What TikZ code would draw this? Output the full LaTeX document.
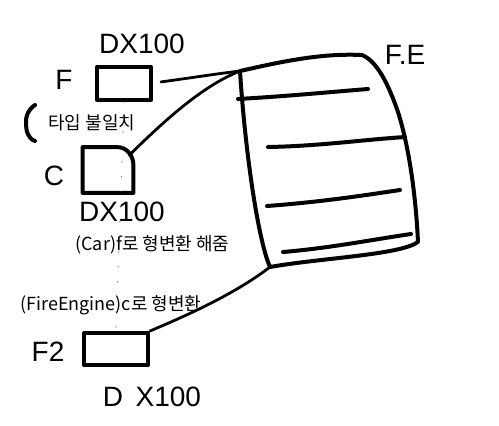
\documentclass[tikz,border=0pt]{standalone}
\usepackage{fontspec}
\setmainfont{Liberation Sans}
\newfontfamily\krfont{Noto Sans CJK KR}
\usetikzlibrary{positioning,calc}

\begin{document}
\begin{tikzpicture}[x=0.5pt,y=-0.5pt,
    pen/.style={line width=2pt, line cap=round, line join=round},
    thinpen/.style={line width=1.4pt, line cap=round, line join=round},
    hand/.style={font=\fontsize{14}{14}\selectfont, inner sep=0pt},
    note/.style={font=\krfont\fontsize{9}{10}\selectfont, inner sep=0pt, anchor=west},
    membox/.style={minimum width=27pt, minimum height=16.5pt, inner sep=0pt}
  ]
    \useasboundingbox (0,0) rectangle (499,425);
    % variables
    \node[membox, draw, pen] (fbox) at (124,83) {};
    \node[membox, minimum width=25pt, minimum height=22.5pt] (cbox) at (108,170) {};
    \draw[pen] (cbox.north west) -- ([xshift=-8pt]cbox.north east)
      to[out=0,in=90] ([yshift=-9pt]cbox.north east) -- (cbox.south east) -- (cbox.south west) -- cycle;
    \node[membox, minimum width=32pt, minimum height=16pt, draw, pen] (ftwobox) at (116,349) {};
    % labels
    \node[hand] (fdx) at (142,44) {DX100};
    \node[hand] (flab) at (64,80) {F};
    \node[hand] (clab) at (54,176) {C};
    \node[hand] (cdx) at (122,212) {DX100};
    \node[hand] (ftwolab) at (48,352) {F2};
    \node[hand] (ftwodx) at (152,397) {D\, X100};
    \node[hand] (felab) at (405,55) {F.E};
    \node[note] (mismatch) at (48,123) {타입 불일치};
    \node[note] (castf) at (75,245) {(Car)f로 형변환 해줌};
    \node[note] (castc) at (20,305) {(FireEngine)c로 형변환};
    \draw[pen] (35,105) to[out=215,in=90] (26,122) to[out=270,in=160] (35,141);
    % heap object
    \coordinate (fetl) at (240,71);
    \coordinate (fetr) at (362,55);
    \coordinate (febr) at (418,242);
    \coordinate (febl) at (270,267);
    \draw[pen] (fetl) .. controls (280,62) and (320,53) .. (fetr)
      .. controls (380,62) and (392,95) .. (398,112)
      .. controls (410,150) and (416,200) .. (febr)
      .. controls (400,255) and (320,258) .. (febl)
      .. controls (258,240) and (245,150) .. (fetl);
    \draw[pen] (238,99) .. controls (290,96) and (330,92) .. (368,89);
    \draw[pen] (268,147) .. controls (320,146) and (360,140) .. (405,137);
    \draw[pen] (267,206) .. controls (320,202) and (360,196) .. (400,190);
    \draw[pen] (283,252) .. controls (330,248) and (370,240) .. (411,234);
    % references
    \draw[thinpen, shorten <=4pt] (fbox.east) .. controls (190,78) and (215,74) .. (fetl);
    \draw[thinpen] ([xshift=-2pt,yshift=-4pt]cbox.north east) .. controls (170,115) and (205,85) .. (fetl);
    \draw[thinpen] (ftwobox.north east) .. controls (200,310) and (240,290) .. (febl);
    % dotted trail
    \draw[black!70, line width=0.5pt, dash pattern=on 0.5pt off 7pt] (fbox.south) -- (ftwobox.north);
\end{tikzpicture}
\end{document}
